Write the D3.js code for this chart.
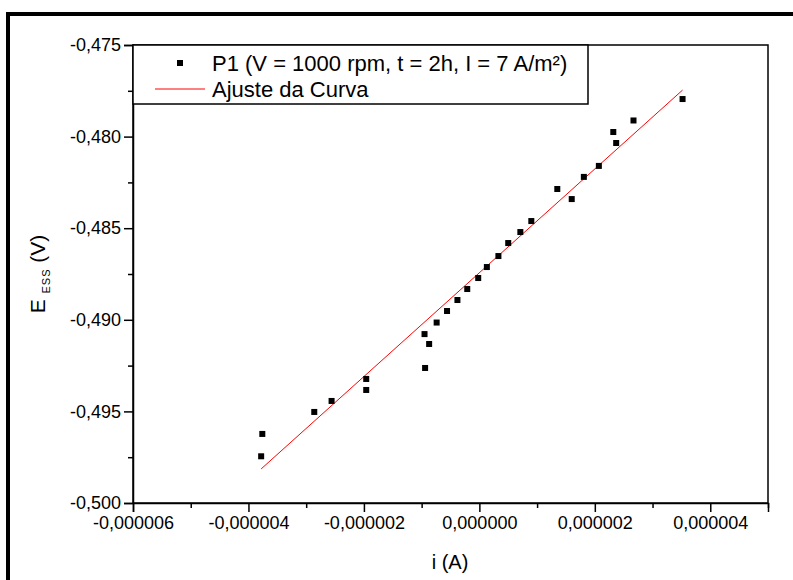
<!DOCTYPE html>
<html>
<head>
<meta charset="utf-8">
<script src="https://cdn.jsdelivr.net/npm/d3@7"></script>
<style>
  body { margin: 0; background: #fff; }
  svg { display: block; }
  text { font-family: "Liberation Sans", Arial, sans-serif; fill: #000; }
</style>
</head>
<body>
<svg width="793" height="580"></svg>
<script>
// data: current i (A) and potential E (V)
const pointsX = [-3.76e-6, -3.78e-6, -2.86e-6, -2.56e-6, -1.96e-6, -1.96e-6, -0.94e-6, -0.95e-6,
    -0.87e-6, -0.74e-6, -0.56e-6, -0.38e-6, -0.21e-6, -0.02e-6, 0.13e-6, 0.33e-6, 0.50e-6,
    0.71e-6, 0.90e-6, 1.35e-6, 1.60e-6, 1.81e-6, 2.07e-6, 2.32e-6, 2.37e-6, 2.67e-6, 3.52e-6];
const pointsY = [-0.49623, -0.49745, -0.49503, -0.49443, -0.49323, -0.49383, -0.49263, -0.49078,
    -0.49132, -0.49015, -0.48952, -0.48892, -0.48832, -0.48772, -0.48712, -0.48652, -0.48581,
    -0.48521, -0.48461, -0.48286, -0.48341, -0.48220, -0.48160, -0.47975, -0.48035, -0.47912, -0.47795];

// fitted line endpoints
const fitX = [-3.78e-6, 3.52e-6];
const fitY = [-0.49814, -0.47746];

const xTicks = [-6e-6, -4e-6, -2e-6, 0, 2e-6, 4e-6];
const xMinor = [-5e-6, -3e-6, -1e-6, 1e-6, 3e-6, 5e-6];
const yTicks = [-0.500, -0.495, -0.490, -0.485, -0.480, -0.475];
const yMinor = [-0.4975, -0.4925, -0.4875, -0.4825, -0.4775];

const legendLabels = ["P1 (V = 1000 rpm, t = 2h, I = 7 A/m²)", "Ajuste da Curva"];

const svg = d3.select("svg");

// plot area
const plotL = 133, plotR = 768, plotT = 45, plotB = 503;

const x = d3.scaleLinear().domain([-6e-6, 5e-6]).range([plotL, plotR]);
const y = d3.scaleLinear().domain([-0.500, -0.475]).range([plotB, plotT]);

// comma decimals
const fmtX = v => d3.format(".6f")(v).replace(".", ",").replace("−", "-");
const fmtY = v => d3.format(".3f")(v).replace(".", ",").replace("−", "-");

// outer frame
svg.append("rect")
    .attr("x", 8).attr("y", 14)
    .attr("width", 900).attr("height", 700)
    .attr("fill", "none")
    .attr("stroke", "#000")
    .attr("stroke-width", 4);

// plot box
svg.append("rect")
    .attr("x", plotL).attr("y", plotT)
    .attr("width", plotR - plotL).attr("height", plotB - plotT)
    .attr("fill", "none")
    .attr("stroke", "#000")
    .attr("stroke-width", 1.5);

// x axis
svg.append("g")
    .attr("transform", `translate(0,${plotB})`)
    .call(d3.axisBottom(x).tickValues(xTicks).tickFormat(fmtX).tickSize(9).tickPadding(4));
svg.append("g")
    .attr("transform", `translate(0,${plotB})`)
    .call(d3.axisBottom(x).tickValues(xMinor).tickFormat("").tickSize(5))
    .select(".domain").remove();

// y axis
svg.append("g")
    .attr("transform", `translate(${plotL},0)`)
    .call(d3.axisLeft(y).tickValues(yTicks).tickFormat(fmtY).tickSize(9).tickPadding(3));
svg.append("g")
    .attr("transform", `translate(${plotL},0)`)
    .call(d3.axisLeft(y).tickValues(yMinor).tickFormat("").tickSize(5))
    .select(".domain").remove();

svg.selectAll(".domain").attr("stroke-width", 1.5);
svg.selectAll(".tick line").attr("stroke-width", 1.5);
svg.selectAll(".tick text")
    .attr("font-size", 18)
    .attr("font-family", "Liberation Sans, Arial, sans-serif");

// axis titles
svg.append("text")
    .attr("x", 450).attr("y", 569)
    .attr("text-anchor", "middle")
    .attr("font-size", 20)
    .text("i (A)");

const yTitle = svg.append("text")
    .attr("transform", "translate(45,274) rotate(-90)")
    .attr("text-anchor", "middle")
    .attr("font-size", 21);
yTitle.append("tspan").text("E ");
yTitle.append("tspan").attr("font-size", 11).attr("dy", 5).attr("letter-spacing", 1).text("ESS");
yTitle.append("tspan").attr("dy", -5).text(" (V)");

// legend
svg.append("rect")
    .attr("x", plotL).attr("y", plotT)
    .attr("width", 455).attr("height", 59)
    .attr("fill", "#fff")
    .attr("stroke", "#000")
    .attr("stroke-width", 1.5);

svg.append("rect")
    .attr("x", 177).attr("y", 60)
    .attr("width", 6).attr("height", 6)
    .attr("fill", "#000");
svg.append("line")
    .attr("x1", 155).attr("x2", 205)
    .attr("y1", 89).attr("y2", 89)
    .attr("stroke", "#ff0000")
    .attr("stroke-width", 1);

svg.selectAll(".legtext")
    .data(legendLabels)
    .enter()
    .append("text")
    .attr("class", "legtext")
    .attr("x", 212)
    .attr("y", (d, i) => 71 + i * 26)
    .attr("font-size", 22)
    .text(d => d);

// fit line
svg.append("line")
    .attr("x1", x(fitX[0])).attr("y1", y(fitY[0]))
    .attr("x2", x(fitX[1])).attr("y2", y(fitY[1]))
    .attr("stroke", "#ff0000")
    .attr("stroke-width", 1);

// points
svg.selectAll(".pt")
    .data(pointsX)
    .enter()
    .append("rect")
    .attr("class", "pt")
    .attr("x", (d, i) => x(d) - 3)
    .attr("y", (d, i) => y(pointsY[i]) - 3)
    .attr("width", 6)
    .attr("height", 6)
    .attr("fill", "#000");
</script>
</body>
</html>
